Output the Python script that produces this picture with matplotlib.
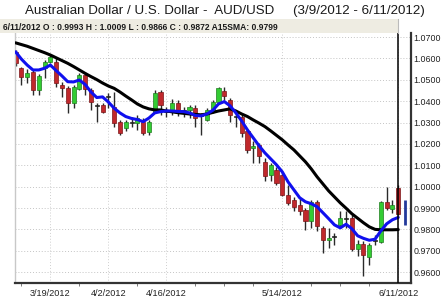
import numpy as np
import pandas as pd
import matplotlib
matplotlib.use('Agg')
import matplotlib.pyplot as plt
from matplotlib.patches import Rectangle

plt.rcParams['font.family'] = ['Liberation Sans', 'DejaVu Sans']

# daily AUD/USD candles, 3/9/2012 - 6/11/2012
dates = pd.bdate_range('2012-03-09', '2012-06-11')
opens = [1.0630, 1.0554, 1.0515, 1.0538, 1.0452, 1.0554, 1.0585, 1.0585, 1.0476, 1.0460,
         1.0390, 1.0456, 1.0522, 1.0452, 1.0380, 1.0382, 1.0422, 1.0374, 1.0304, 1.0273,
         1.0300, 1.0297, 1.0304, 1.0257, 1.0351, 1.0444, 1.0350, 1.0359, 1.0392, 1.0355,
         1.0359, 1.0368, 1.0330, 1.0312, 1.0351, 1.0398, 1.0449, 1.0406, 1.0330, 1.0328,
         1.0260, 1.0180, 1.0195, 1.0116, 1.0055, 1.0079, 1.0055, 0.9962, 0.9938, 0.9915,
         0.9892, 0.9837, 0.9930, 0.9806, 0.9748, 0.9765, 0.9821, 0.9852, 0.9853, 0.9708,
         0.9733, 0.9673, 0.9747, 0.9743, 0.9930, 0.9895, 0.9993]
highs = [1.0639, 1.0562, 1.0549, 1.0545, 1.0525, 1.0593, 1.0616, 1.0600, 1.0490, 1.0470,
         1.0475, 1.0533, 1.0538, 1.0462, 1.0392, 1.0392, 1.0437, 1.0444, 1.0310, 1.0312,
         1.0328, 1.0336, 1.0320, 1.0310, 1.0450, 1.0452, 1.0374, 1.0412, 1.0406, 1.0374,
         1.0382, 1.0382, 1.0345, 1.0368, 1.0406, 1.0468, 1.0465, 1.0415, 1.0359, 1.0340,
         1.0270, 1.0212, 1.0205, 1.0135, 1.0111, 1.0093, 1.0069, 1.0009, 0.9953, 0.9948,
         0.9900, 0.9938, 0.9938, 0.9814, 0.9807, 0.9784, 0.9884, 0.9884, 0.9865, 0.9751,
         0.9745, 0.9738, 0.9775, 0.9935, 1.0000, 0.9938, 1.0009]
lows = [1.0564, 1.0476, 1.0484, 1.0429, 1.0429, 1.0507, 1.0580, 1.0468, 1.0421, 1.0343,
        1.0367, 1.0450, 1.0430, 1.0359, 1.0303, 1.0345, 1.0368, 1.0281, 1.0242, 1.0260,
        1.0281, 1.0266, 1.0242, 1.0242, 1.0348, 1.0334, 1.0328, 1.0336, 1.0330, 1.0328,
        1.0320, 1.0280, 1.0242, 1.0305, 1.0345, 1.0390, 1.0406, 1.0304, 1.0281, 1.0234,
        1.0158, 1.0111, 1.0109, 1.0027, 1.0027, 1.0009, 0.9957, 0.9915, 0.9884, 0.9868,
        0.9798, 0.9808, 0.9791, 0.9691, 0.9714, 0.9728, 0.9806, 0.9806, 0.9700, 0.9677,
        0.9583, 0.9635, 0.9728, 0.9735, 0.9890, 0.9876, 0.9866]
closes = [1.0579, 1.0515, 1.0533, 1.0452, 1.0518, 1.0585, 1.0608, 1.0484, 1.0460, 1.0390,
          1.0468, 1.0522, 1.0456, 1.0398, 1.0378, 1.0350, 1.0420, 1.0297, 1.0250, 1.0304,
          1.0302, 1.0320, 1.0250, 1.0304, 1.0437, 1.0382, 1.0352, 1.0392, 1.0351, 1.0357,
          1.0374, 1.0320, 1.0332, 1.0359, 1.0398, 1.0460, 1.0424, 1.0336, 1.0328, 1.0250,
          1.0170, 1.0190, 1.0142, 1.0050, 1.0102, 1.0018, 0.9962, 0.9924, 0.9907, 0.9884,
          0.9837, 0.9930, 0.9814, 0.9751, 0.9759, 0.9767, 0.9852, 0.9850, 0.9708, 0.9733,
          0.9681, 0.9728, 0.9749, 0.9930, 0.9900, 0.9915, 0.9872]

# 15 day SMA (black) and the faster average (blue)
sma15 = [1.0673, 1.0665, 1.0657, 1.0647, 1.0637, 1.0627, 1.0616, 1.0603, 1.0590, 1.0577,
         1.0562, 1.0546, 1.0530, 1.0515, 1.0501, 1.0485, 1.0471, 1.0460, 1.0443, 1.0424,
         1.0406, 1.0387, 1.0373, 1.0364, 1.0359, 1.0359, 1.0354, 1.0350, 1.0346, 1.0343,
         1.0340, 1.0338, 1.0336, 1.0340, 1.0347, 1.0354, 1.0359, 1.0364, 1.0354, 1.0340,
         1.0328, 1.0312, 1.0297, 1.0281, 1.0261, 1.0240, 1.0219, 1.0195, 1.0172, 1.0144,
         1.0116, 1.0083, 1.0046, 1.0013, 0.9980, 0.9952, 0.9924, 0.9899, 0.9873, 0.9852,
         0.9831, 0.9812, 0.9800, 0.9798, 0.9798, 0.9798, 0.9799]
fast_ma = [1.0631, 1.0597, 1.0569, 1.0546, 1.0546, 1.0554, 1.0569, 1.0543, 1.0518, 1.0491,
           1.0490, 1.0499, 1.0478, 1.0443, 1.0417, 1.0420, 1.0396, 1.0367, 1.0345, 1.0328,
           1.0319, 1.0314, 1.0304, 1.0321, 1.0345, 1.0351, 1.0354, 1.0354, 1.0352, 1.0351,
           1.0345, 1.0333, 1.0331, 1.0340, 1.0357, 1.0387, 1.0398, 1.0378, 1.0345, 1.0307,
           1.0265, 1.0228, 1.0191, 1.0158, 1.0130, 1.0102, 1.0069, 1.0022, 0.9985, 0.9948,
           0.9929, 0.9920, 0.9906, 0.9878, 0.9850, 0.9821, 0.9807, 0.9824, 0.9803, 0.9770,
           0.9758, 0.9749, 0.9754, 0.9793, 0.9826, 0.9845, 0.9856]

label_dates = ['2012-03-19', '2012-04-02', '2012-04-16', '2012-05-14', '2012-06-11']
yticks = [0.96, 0.97, 0.98, 0.99, 1.00, 1.01, 1.02, 1.03, 1.04, 1.05, 1.06, 1.07]
band = (0.9822, 0.9938)   # blue marker right of the last bar

W, H = 443, 299
fig = plt.figure(figsize=(W / 100, H / 100), dpi=100)
ax = fig.add_axes([15 / W, 1 - 283 / H, (411 - 15) / W, (283 - 33) / H])

x = np.arange(len(dates))
o = np.array(opens); c = np.array(closes)
up = c > o
doji = np.abs(c - o) < 0.0005
body_col = np.where(doji, '#222222', np.where(up, '#33cc33', '#c0282c'))
edge_col = np.where(doji, '#222222', np.where(up, '#1e7d1e', '#7a1517'))

ax.vlines(x, lows, highs, color='#2a2a2a', lw=1.0, zorder=2)
heights = np.maximum(np.abs(c - o), 0.0003)
ax.bar(x, heights, bottom=np.minimum(o, c), width=0.7, color=body_col,
       edgecolor=edge_col, linewidth=0.5, zorder=2.5)

ax.plot(x, sma15, color='black', lw=2.2, zorder=3, solid_capstyle='round')
ax.plot(x, fast_ma, color='#1010ee', lw=2.2, zorder=3.5, solid_capstyle='round')

# cursor line on the last bar and blue marker
ax.axvline(x[-1], color='black', lw=1.1, zorder=4)
ax.plot([x[-1] + 1.2] * 2, band, color='#23399a', lw=2, zorder=4, solid_capstyle='butt')

ax.set_xlim(-0.1, 68.2)
ax.set_ylim(0.9549, 1.0719)

# weekly minor ticks, labels every other monday
mondays = [i for i, d in enumerate(dates) if d.weekday() == 0]
ax.set_xticks(mondays, minor=True)
lab_idx = [list(dates).index(pd.Timestamp(d)) for d in label_dates]
ax.set_xticks(lab_idx)
ax.set_xticklabels([f'{pd.Timestamp(d).month}/{pd.Timestamp(d).day}/{pd.Timestamp(d).year}'
                    for d in label_dates], fontsize=6.6, color='#222222')
ax.tick_params(axis='x', which='major', length=0, pad=4)
ax.tick_params(axis='x', which='minor', length=2.5, color='#666666', width=0.6)

ax.yaxis.tick_right()
ax.set_yticks(yticks)
ax.set_yticklabels([f'{v:.4f}' for v in yticks], fontsize=6.4, color='#222222')
ax.tick_params(axis='y', length=0, pad=2)

ax.grid(axis='y', color='#c4c4c4', ls=(0, (1, 2)), lw=0.7)
ax.grid(axis='x', which='major', color='#cfcfcf', ls=(0, (1, 2)), lw=0.7)
ax.set_axisbelow(True)

ax.spines['top'].set_visible(False)
ax.spines['left'].set_color('#c8c8c8')
ax.spines['left'].set_linewidth(1.0)
ax.spines['bottom'].set_color('#333333')
ax.spines['bottom'].set_linewidth(1.6)
ax.spines['right'].set_color('#333333')
ax.spines['right'].set_linewidth(1.6)

# info bar
fig.patches.append(Rectangle((0, 1 - 33 / H), 398 / W, 14 / H, transform=fig.transFigure,
                             facecolor='#eeece2', edgecolor='none', zorder=0))
fig.add_artist(plt.Line2D([398 / W] * 2, [1 - 33 / H, 1 - 19 / H], color='#bbbbbb', lw=0.8))
fig.text(3 / W, 1 - 29.5 / H,
         '6/11/2012 O : 0.9993 H : 1.0009 L : 0.9866 C : 0.9872 A15SMA: 0.9799',
         fontsize=6.15, fontweight='bold', color='#1a1a1a', va='baseline')

fig.text(25 / W, 1 - 14 / H,
         'Australian Dollar / U.S. Dollar -  AUD/USD     (3/9/2012 - 6/11/2012)',
         fontsize=9.6, color='#1a1a1a', va='baseline')

fig.savefig('out.png', dpi=100)
